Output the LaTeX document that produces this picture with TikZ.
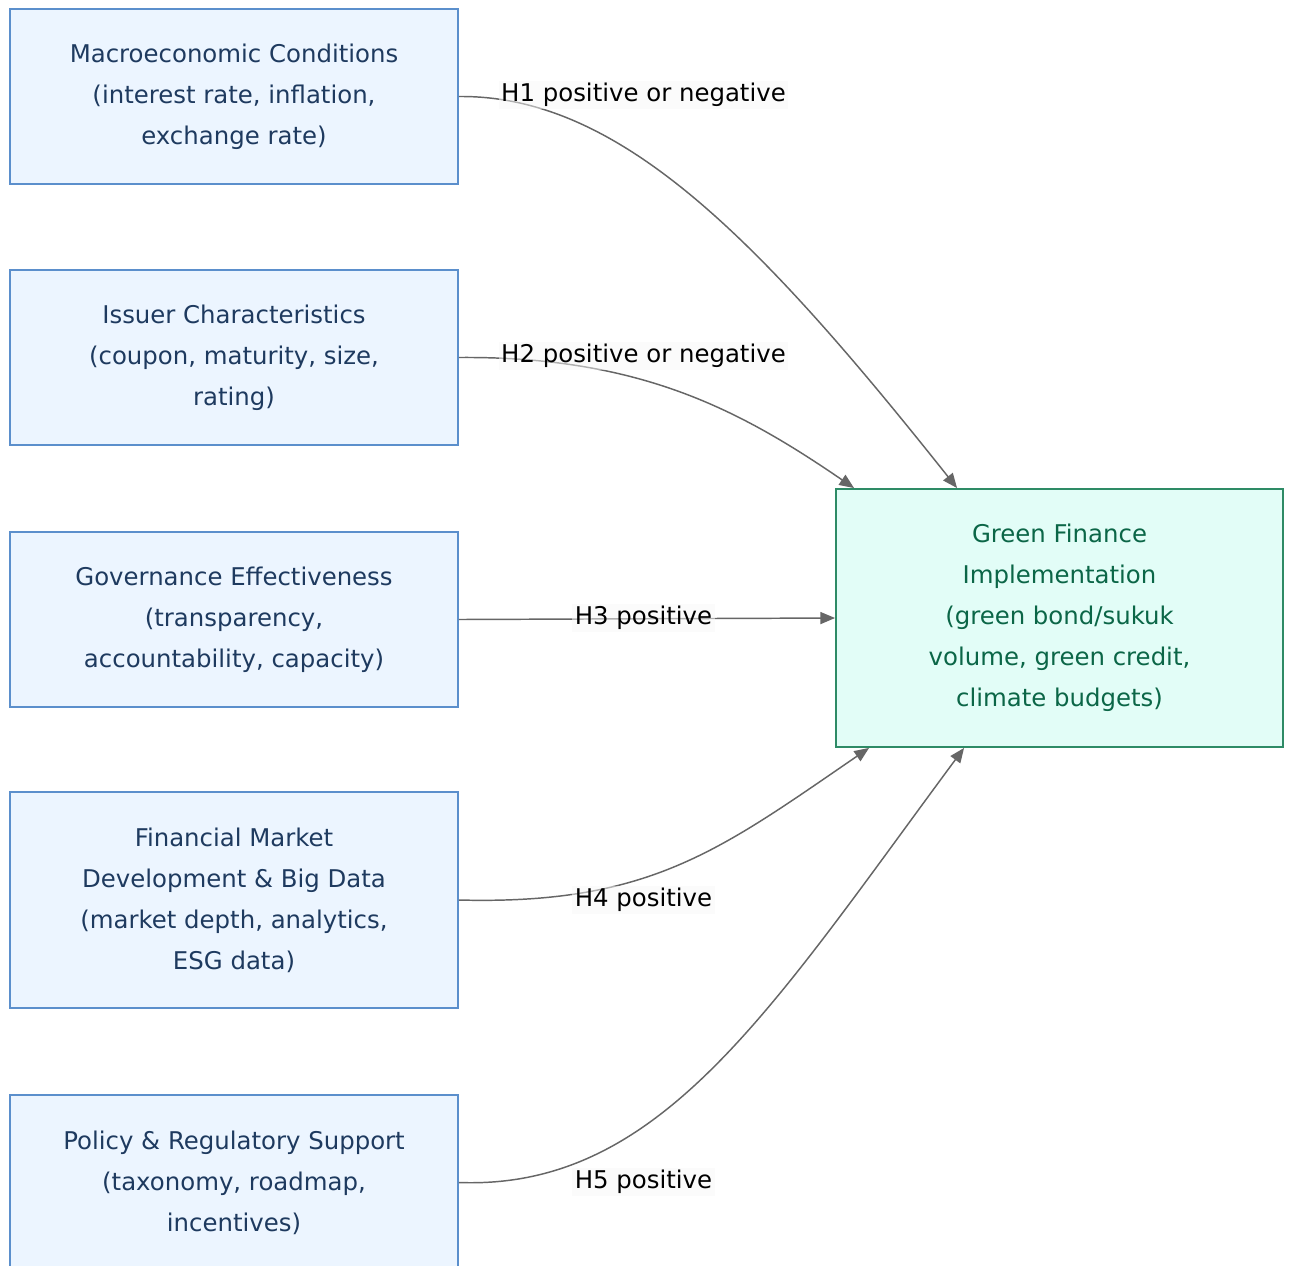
\documentclass[tikz,border=0pt]{standalone}
\usepackage{fontspec}
\setmainfont{DejaVu Sans}
\usetikzlibrary{arrows.meta,calc}
\definecolor{srcfill}{HTML}{ECF5FF}
\definecolor{srcdraw}{HTML}{5B8FCC}
\definecolor{srctext}{HTML}{1E3A5F}
\definecolor{dstfill}{HTML}{E2FDF7}
\definecolor{dstdraw}{HTML}{2E8B66}
\definecolor{dsttext}{HTML}{0B6647}
\definecolor{edgecol}{HTML}{666666}
\definecolor{lblfill}{HTML}{F9F9F9}
\tikzset{
  srcbox/.style={draw=srcdraw, fill=srcfill, line width=1.4pt, text=srctext,
    minimum width=336pt, minimum height=131.25pt, align=center,
    font=\fontsize{18.3}{30.75}\selectfont, inner sep=0pt},
  dstbox/.style={draw=dstdraw, fill=dstfill, line width=1.4pt, text=dsttext,
    minimum width=335.25pt, minimum height=193.5pt, align=center,
    font=\fontsize{18.3}{30.75}\selectfont, inner sep=0pt},
  edge/.style={draw=edgecol, line width=1.1pt, -{Triangle[length=11pt,width=9pt]}},
  lbl/.style={fill=lblfill, fill opacity=0.5, text opacity=1, text=black,
    font=\fontsize{18.3}{22}\selectfont, inner sep=2pt}
}
\begin{document}
\begin{tikzpicture}[x=0.75pt, y=-0.75pt]
\useasboundingbox (0,0) rectangle (1289,1265);
\fill[white] (0,0) rectangle (1289,1265);

\node[srcbox] (m) at (234,96.5) {Macroeconomic Conditions\\(interest rate, inflation,\\exchange rate)};
\node[srcbox] (i) at (234,357.5) {Issuer Characteristics\\(coupon, maturity, size,\\rating)};
\node[srcbox] (gv) at (234,619.5) {Governance Effectiveness\\(transparency,\\accountability, capacity)};
\node[srcbox, minimum height=162pt] (f) at (234,900) {Financial Market\\Development \& Big Data\\(market depth, analytics,\\ESG data)};
\node[srcbox] (p) at (234,1182.5) {Policy \& Regulatory Support\\(taxonomy, roadmap,\\incentives)};

\node[dstbox] (g) at (1059.5,618) {Green Finance\\Implementation\\(green bond/sukuk\\volume, green credit,\\climate budgets)};

\coordinate (t1) at ($(g.north west)+(122,0)$);
\coordinate (t2) at ($(g.north west)+(19,0)$);
\coordinate (t4) at ($(g.south west)+(34,0)$);
\coordinate (t5) at ($(g.south west)+(129,0)$);

\draw[edge] (m.east) .. controls (620,95) and (760,240) .. (t1);
\draw[edge] (i.east) .. controls (640,356) and (740,410) .. (t2);
\draw[edge] (gv.east) -- (g.west);
\draw[edge] (f.east) .. controls (650,905) and (720,850) .. (t4);
\draw[edge] (p.east) .. controls (660,1190) and (770,1010) .. (t5);

\node[lbl] (l1) at (643.5,95) {H1 positive or negative};
\node[lbl] (l2) at (643.5,356) {H2 positive or negative};
\node[lbl] (l3) at (643.5,618) {H3 positive};
\node[lbl] (l4) at (643.5,900) {H4 positive};
\node[lbl] (l5) at (643.5,1182) {H5 positive};
\end{tikzpicture}
\end{document}
